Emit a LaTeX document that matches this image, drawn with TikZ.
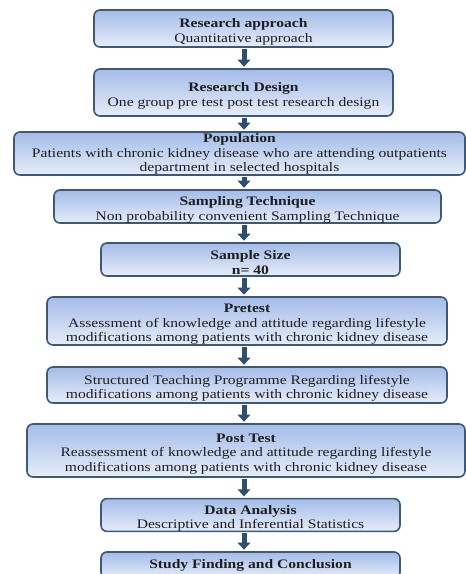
\documentclass[tikz,border=0pt]{standalone}
\usepackage{fontspec}
\setmainfont[FakeStretch=1.2]{Liberation Serif}
\usetikzlibrary{arrows.meta}
\definecolor{boxtop}{RGB}{164,188,232}
\definecolor{boxbot}{RGB}{230,237,249}
\definecolor{boxline}{RGB}{60,90,120}
\definecolor{arrowcol}{RGB}{47,79,112}
\definecolor{txt}{RGB}{30,30,30}
\tikzset{
  flowbox/.style={draw=boxline, line width=1.6pt, rounded corners=6pt,
    top color=boxtop, bottom color=boxbot, inner sep=0pt,
    align=center, text=txt,
    font=\fontsize{13}{14.5}\selectfont},
  flowarrow/.style={draw=arrowcol, line width=5pt,
    -{Triangle[width=12.5pt,length=7pt]}, shorten <=1pt, shorten >=1.5pt}
}
\newcommand{\firstrule}{15.5pt}
\newcommand{\mkbox}[6]{% name, x1, x2, y1, y2, text
  \node[flowbox, minimum width={#3-#2}, minimum height={#5-#4}] (#1)
    at ({(#2+#3)/2},{-(#4+#5)/2}) {\rule{0pt}{\firstrule}#6};}
\begin{document}
\begin{tikzpicture}[x=1pt,y=1pt]
\useasboundingbox (0,0) rectangle (466,-574);
\clip (0,0) rectangle (466,-574);
\fill[white] (0,0) rectangle (466,-574);
\mkbox{b1}{94}{393}{10}{47}{\textbf{Research approach}\\Quantitative approach}
\mkbox{b2}{94}{393}{69}{116}{\textbf{Research Design}\\One group pre test post test research design}
\renewcommand{\firstrule}{10pt}
\mkbox{b3}{14}{465}{132}{175}{\textbf{Population}\\Patients with chronic kidney disease who are attending outpatients\\department in selected hospitals}
\renewcommand{\firstrule}{15.5pt}
\mkbox{b4}{54}{441}{190}{223}{\textbf{Sampling Technique}\\Non probability convenient Sampling Technique}
\mkbox{b5}{101}{400}{243}{276}{\textbf{Sample Size}\\\textbf{n= 40}}
\mkbox{b6}{47}{447}{297}{345}{\textbf{Pretest}\\Assessment of knowledge and attitude regarding lifestyle\\modifications among patients with chronic kidney disease}
\mkbox{b7}{47}{447}{367}{403}{Structured Teaching Programme Regarding lifestyle\\modifications among patients with chronic kidney disease}
\mkbox{b8}{27}{465}{424}{477}{\textbf{Post Test}\\Reassessment of knowledge and attitude regarding lifestyle\\modifications among patients with chronic kidney disease}
\mkbox{b9}{101}{400}{499}{531}{\textbf{Data Analysis}\\Descriptive and Inferential Statistics}
\node[flowbox, minimum width=299pt, minimum height=26pt] (b10)
  at (250.5,-565) {\textbf{Study Finding and Conclusion}};
\foreach \a/\b in {b1/b2,b2/b3,b3/b4,b4/b5,b5/b6,b6/b7,b7/b8,b8/b9,b9/b10}
  \draw[flowarrow] (\a.south -| 244,0) -- (\b.north -| 244,0);
\end{tikzpicture}
\end{document}
